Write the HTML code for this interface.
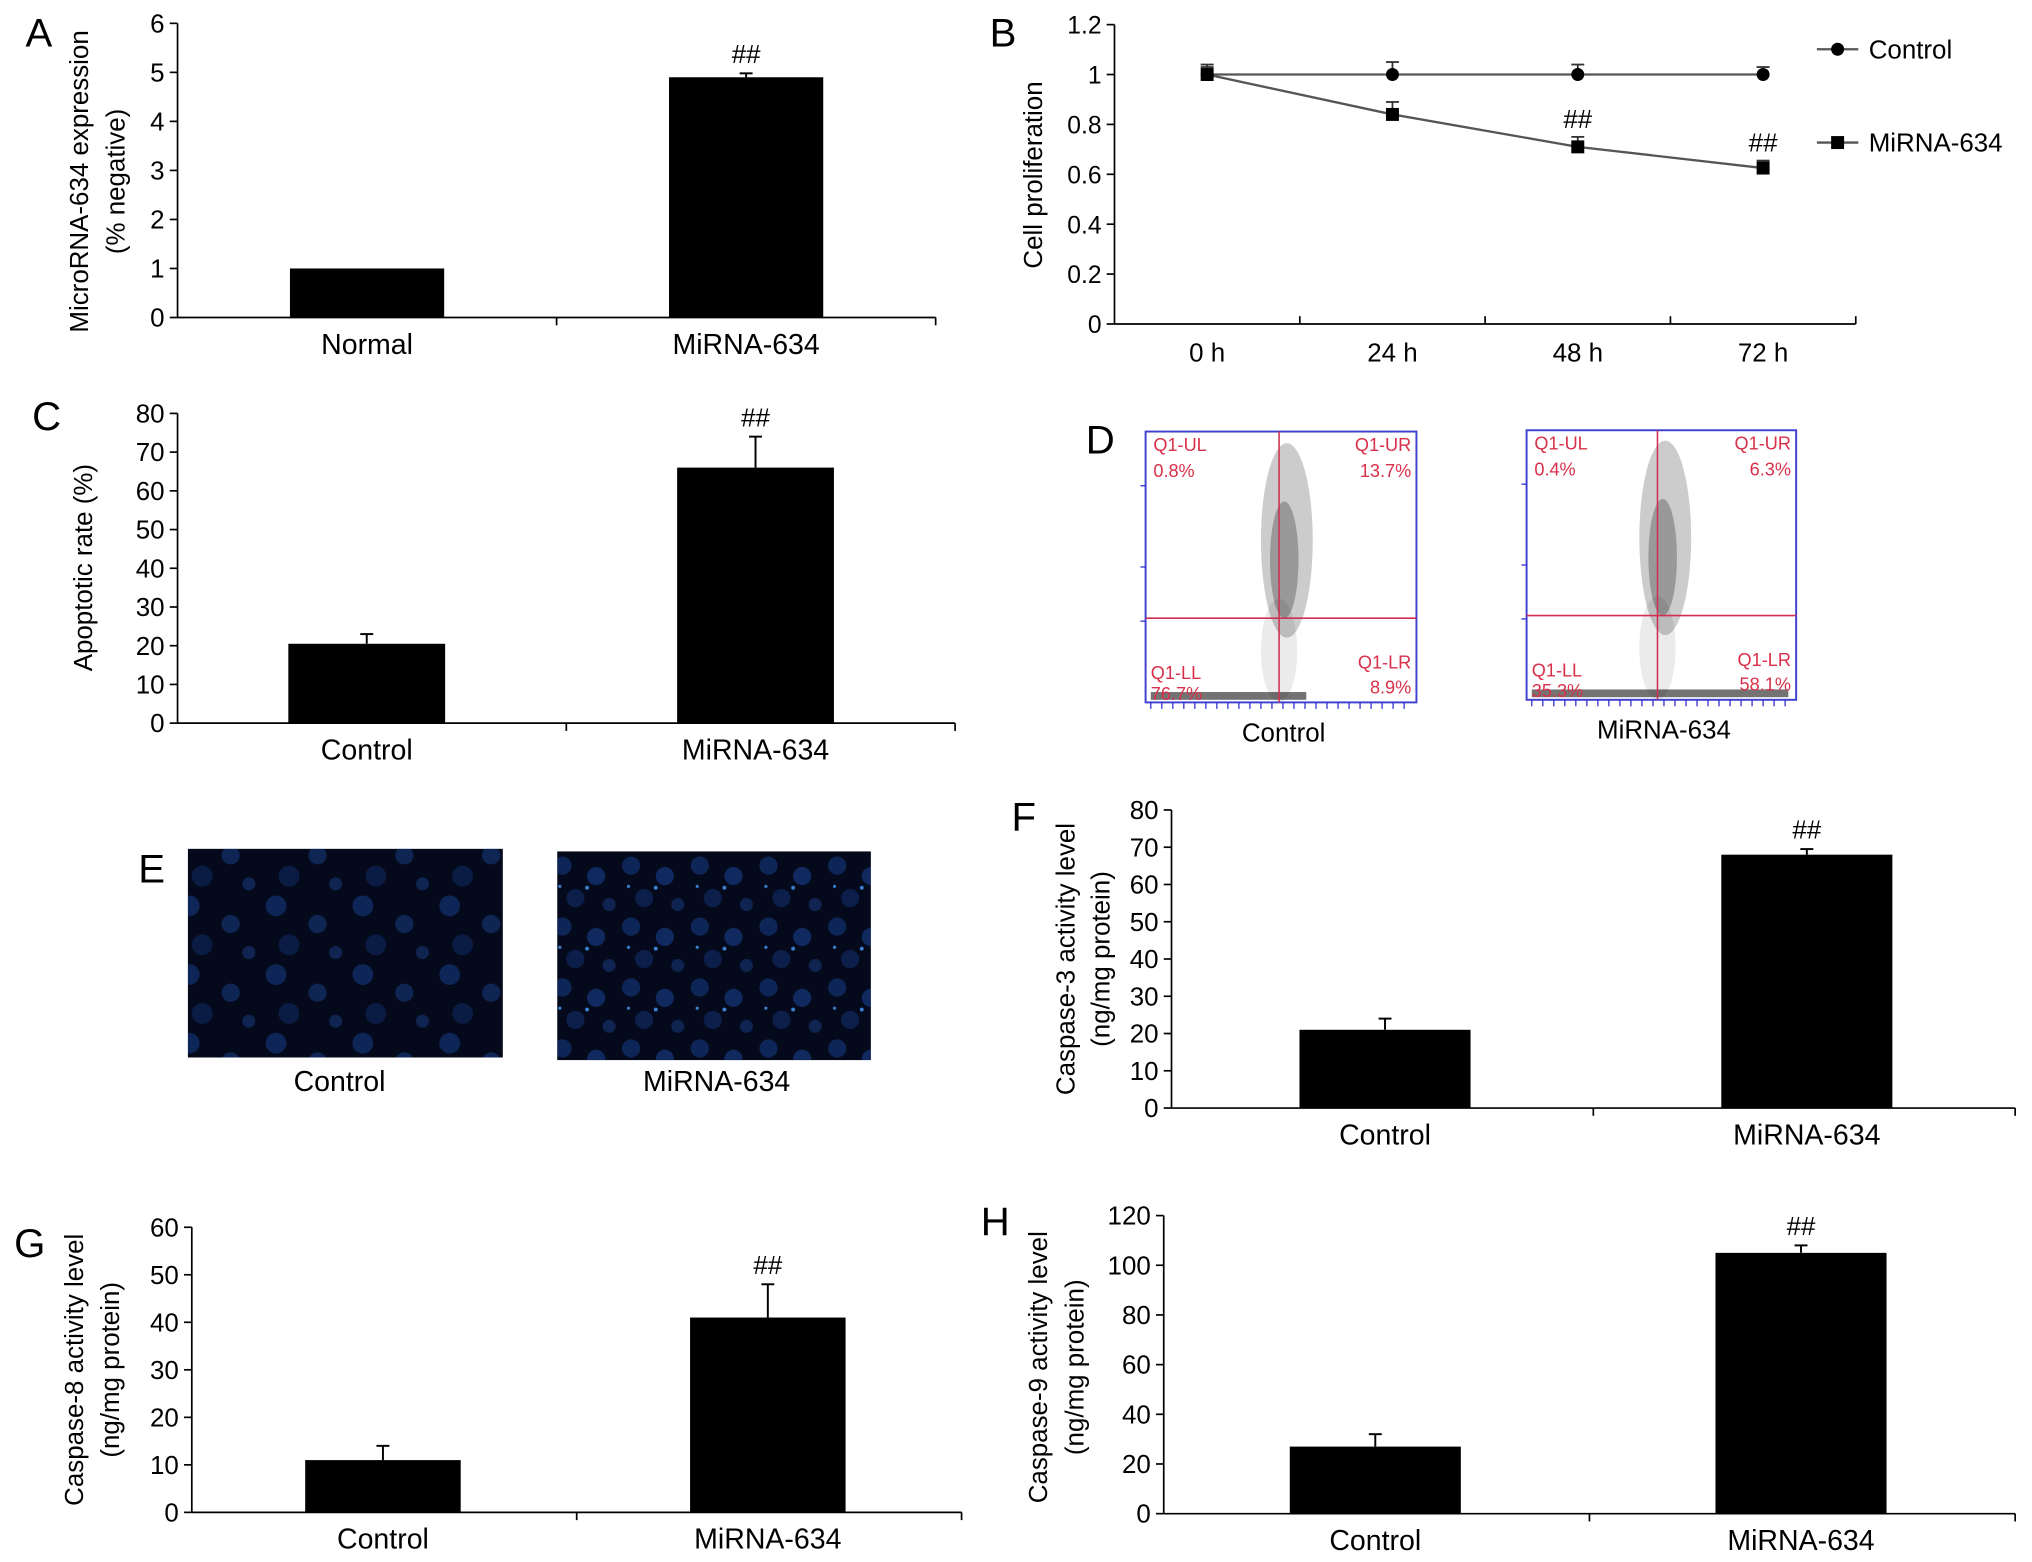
<!DOCTYPE html>
<html><head><meta charset="utf-8"><style>
html,body{margin:0;padding:0;background:#fff;}
svg{display:block;font-family:"Liberation Sans",Arial,sans-serif;}
</style></head><body>
<svg id="fig" width="2032" height="1562" viewBox="0 0 1568 1205.3" preserveAspectRatio="none" xmlns="http://www.w3.org/2000/svg">
<defs>
<pattern id="cellsA" width="67" height="53" patternUnits="userSpaceOnUse">
<circle cx="12" cy="10" r="8" fill="#1d4fb0" opacity="0.4"/><circle cx="44" cy="24" r="7" fill="#2258c0" opacity="0.35"/>
<circle cx="22" cy="40" r="8" fill="#1a45a0" opacity="0.3"/><circle cx="58" cy="46" r="5" fill="#2a60d0" opacity="0.3"/>
</pattern>
<pattern id="cellsB" width="53" height="47" patternUnits="userSpaceOnUse">
<circle cx="10" cy="10" r="7" fill="#1d4fb0" opacity="0.4"/><circle cx="36" cy="18" r="7" fill="#2258c0" opacity="0.4"/>
<circle cx="20" cy="35" r="7" fill="#1a45a0" opacity="0.35"/><circle cx="46" cy="40" r="5" fill="#2a60d0" opacity="0.3"/>
<circle cx="29" cy="27" r="1.5" fill="#4aa0ff" opacity="0.8"/><circle cx="8" cy="26" r="1.2" fill="#4aa0ff" opacity="0.8"/>
</pattern>
</defs>
<g id="root"></g>
</svg>
<script>
// Panel A data
const aCats = ["Normal","MiRNA-634"];
const aVals = [1.0, 4.9];
const aErrs = [0.0, 0.08];
const aTicks = [0,1,2,3,4,5,6];
// Panel B data
const bCats = ["0 h","24 h","48 h","72 h"];
const bCtrl = [1.0, 1.0, 1.0, 1.0];
const bCtrlErr = [0.04, 0.05, 0.04, 0.03];
const bMir = [1.0, 0.84, 0.71, 0.625];
const bMirErr = [0.03, 0.05, 0.04, 0.03];
const bTicks = [0,0.2,0.4,0.6,0.8,1,1.2];
// Panel C
const cCats = ["Control","MiRNA-634"];
const cVals = [20.5, 66];
const cErrs = [2.5, 8];
const cTicks = [0,10,20,30,40,50,60,70,80];
// Panel F
const fCats = ["Control","MiRNA-634"];
const fVals = [21, 68];
const fErrs = [3, 1.5];
const fTicks = [0,10,20,30,40,50,60,70,80];
// Panel G
const gCats = ["Control","MiRNA-634"];
const gVals = [11, 41];
const gErrs = [3, 7];
const gTicks = [0,10,20,30,40,50,60];
// Panel H
const hCats = ["Control","MiRNA-634"];
const hVals = [27, 105];
const hErrs = [5, 3];
const hTicks = [0,20,40,60,80,100,120];

const NS="http://www.w3.org/2000/svg";
const root=document.getElementById('root');
function mk(tag,attrs,parent){const e=document.createElementNS(NS,tag);for(const k in attrs)e.setAttribute(k,attrs[k]);(parent||root).appendChild(e);return e;}
function txt(s,x,y,size,anchor,parent,extra){const t=mk('text',Object.assign({x:x,y:y,'font-size':size,'text-anchor':anchor||'middle',fill:'#000'},extra||{}),parent);t.textContent=s;return t;}

function barPanel(o){
  const g=mk('g',{});
  
  
  const tmax=o.ticks[o.ticks.length-1];
  const ys=v=>o.y0-(v/tmax)*(o.y0-o.ytop);
  mk('line',{x1:o.x0,y1:o.y0,x2:o.x0,y2:o.ytop,stroke:'#000','stroke-width':1.3},g);
  mk('line',{x1:o.x0,y1:o.y0,x2:o.x1,y2:o.y0,stroke:'#000','stroke-width':1.3},g);
  o.ticks.forEach(v=>{const y=ys(v);
    mk('line',{x1:o.x0-6,y1:y,x2:o.x0,y2:y,stroke:'#000','stroke-width':1.3},g);
    const t=txt(String(v),o.x0-10,y+7,20,'end',g);
    
    
  });
  const mid=(o.x0+o.x1)/2;
  [mid,o.x1].forEach(x=>mk('line',{x1:x,y1:o.y0,x2:x,y2:o.y0+6,stroke:'#000','stroke-width':1.3},g));
  const bw=o.bw, band=(o.x1-o.x0)/o.cats.length;
  o.cats.forEach((c,i)=>{
    const cx=o.x0+band*(i+0.5)+(o.shift||0);
    const top=ys(o.vals[i]);
    const r=mk('rect',{x:cx-bw/2,y:top,width:bw,height:o.y0-top,fill:'#000'},g);
    
    
    if(o.errs[i]>0){const ey=ys(o.vals[i]+o.errs[i]);
      mk('line',{x1:cx,y1:top,x2:cx,y2:ey,stroke:'#000','stroke-width':1.5},g);
      mk('line',{x1:cx-5,y1:ey,x2:cx+5,y2:ey,stroke:'#000','stroke-width':1.5},g);}
    const l=txt(c,cx,o.y0+28,22,'middle',g);
    
    
    if(i===1){const h=txt('##',cx,ys(o.vals[i]+o.errs[i])-8,20,'middle',g);
      
      }
  });
  o.titles.forEach((s,k)=>{const t=txt(s,o.tx[k],o.ty,20,'middle',g,{transform:'rotate(-90 '+o.tx[k]+' '+o.ty+')'});
    
    });
  const L=txt(o.letter,o.lx,o.ly,31,'middle',g);
  
  
}

barPanel({name:'panel-a',cats:aCats,vals:aVals,errs:aErrs,ticks:aTicks,x0:137,x1:722,y0:245,ytop:18,bw:119,shift:0,titles:['MicroRNA-634 expression','(% negative)'],tx:[68,96],ty:140,letter:'A',lx:30,ly:36});
barPanel({name:'panel-c',cats:cCats,vals:cVals,errs:cErrs,ticks:cTicks,x0:137,x1:737,y0:558,ytop:319,bw:121,shift:-4,titles:['Apoptotic rate (%)'],tx:[71],ty:438,letter:'C',lx:36,ly:332});
barPanel({name:'panel-f',cats:fCats,vals:fVals,errs:fErrs,ticks:fTicks,x0:904,x1:1555,y0:855,ytop:625,bw:132,shift:2,titles:['Caspase-3 activity level','(ng/mg protein)'],tx:[829,856],ty:740,letter:'F',lx:790,ly:641});
barPanel({name:'panel-g',cats:gCats,vals:gVals,errs:gErrs,ticks:gTicks,x0:148,x1:742,y0:1167,ytop:947,bw:120,shift:-1,titles:['Caspase-8 activity level','(ng/mg protein)'],tx:[64,92],ty:1057,letter:'G',lx:23,ly:970});
barPanel({name:'panel-h',cats:hCats,vals:hVals,errs:hErrs,ticks:hTicks,x0:898,x1:1555,y0:1168,ytop:938,bw:132,shift:-1,titles:['Caspase-9 activity level','(ng/mg protein)'],tx:[808,836],ty:1055,letter:'H',lx:768,ly:953});

// Panel B line chart
(function(){
  const g=mk('g',{});
  
  
  const x0=860,x1=1432,y0=250,ytop=19,tmax=1.2;
  const ys=v=>y0-(v/tmax)*(y0-ytop);
  const band=(x1-x0)/4;
  const xs=i=>x0+band*(i+0.5);
  mk('line',{x1:x0,y1:y0,x2:x0,y2:ytop,stroke:'#000','stroke-width':1.3},g);
  mk('line',{x1:x0,y1:y0,x2:x1,y2:y0,stroke:'#000','stroke-width':1.3},g);
  bTicks.forEach(v=>{const y=ys(v);
    mk('line',{x1:x0-6,y1:y,x2:x0,y2:y,stroke:'#000','stroke-width':1.3},g);
    const t=txt(String(v),x0-10,y+7,19,'end',g);
    
    });
  for(let i=1;i<=4;i++){const x=x0+band*i;mk('line',{x1:x,y1:y0,x2:x,y2:y0-6,stroke:'#000','stroke-width':1.3},g);}
  bCats.forEach((c,i)=>{const t=txt(c,xs(i),y0+29,20,'middle',g);
    
    });
  function series(vals,errs,shape,name){
    const p=mk('polyline',{points:vals.map((v,i)=>xs(i)+','+ys(v)).join(' '),fill:'none',stroke:'#555','stroke-width':1.8},g);
    
    
    vals.forEach((v,i)=>{const x=xs(i),y=ys(v),ey=ys(v+errs[i]);
      mk('line',{x1:x,y1:y,x2:x,y2:ey,stroke:'#333','stroke-width':1.4},g);
      mk('line',{x1:x-5,y1:ey,x2:x+5,y2:ey,stroke:'#333','stroke-width':1.4},g);
      const m=shape==='c'?mk('circle',{cx:x,cy:y,r:5,fill:'#000'},g):mk('rect',{x:x-5,y:y-5,width:10,height:10,fill:'#000'},g);
      
      });
  }
  series(bCtrl,bCtrlErr,'c','control');
  series(bMir,bMirErr,'s','mirna-634');
  [2,3].forEach(i=>{const t=txt('##',xs(i),ys(bMir[i]+bMirErr[i])-7,20,'middle',g);
    
    });
  const lg=mk('g',{},g);
  
  
  mk('line',{x1:1402,y1:38,x2:1434,y2:38,stroke:'#555','stroke-width':1.8},lg);
  mk('circle',{cx:1418,cy:38,r:5,fill:'#000'},lg);
  txt('Control',1442,45,20,'start',lg);
  mk('line',{x1:1402,y1:110,x2:1434,y2:110,stroke:'#555','stroke-width':1.8},lg);
  mk('rect',{x:1413,y:105,width:10,height:10,fill:'#000'},lg);
  txt('MiRNA-634',1442,117,20,'start',lg);
  const t=txt('Cell proliferation',804,135,20,'middle',g,{transform:'rotate(-90 804 135)'});
  
  
  const L=txt('B',774,36,31,'middle',g);
  
  
})();

// Panel D flow cytometry (schematic)
(function(){
  const g=mk('g',{});
  
  
  const plots=[{x:884,y:333,w:209,h:209,vx:987,hy:477,lab:'Control',ul:'0.8%',ur:'13.7%',ll:'76.7%',lr:'8.9%'},
               {x:1178,y:332,w:208,h:208,vx:1279,hy:475,lab:'MiRNA-634',ul:'0.4%',ur:'6.3%',ll:'35.3%',lr:'58.1%'}];
  plots.forEach((p,k)=>{
    const pg=mk('g',{},g);
    
    
    mk('ellipse',{cx:p.vx+6,cy:p.hy-60,rx:20,ry:75,fill:'#000',opacity:0.2},pg);
    mk('ellipse',{cx:p.vx+4,cy:p.hy-45,rx:11,ry:45,fill:'#000',opacity:0.25},pg);
    mk('ellipse',{cx:p.vx,cy:p.hy+25,rx:14,ry:40,fill:'#000',opacity:0.08},pg);
    mk('rect',{x:p.x+4,y:p.y+p.h-8,width:k?p.w-10:120,height:6,fill:'#000',opacity:0.55},pg);
    mk('rect',{x:p.x,y:p.y,width:p.w,height:p.h,fill:'none',stroke:'#4040d0','stroke-width':1.5},pg);
    for(let i=0;i<24;i++)mk('line',{x1:p.x+4+i*8.5,y1:p.y+p.h,x2:p.x+4+i*8.5,y2:p.y+p.h+5,stroke:'#3030d0','stroke-width':1},pg);
    [0.2,0.5,0.7].forEach(f=>mk('line',{x1:p.x-4,y1:p.y+p.h*f,x2:p.x,y2:p.y+p.h*f,stroke:'#3030d0','stroke-width':1},pg));
    mk('line',{x1:p.vx,y1:p.y,x2:p.vx,y2:p.y+p.h,stroke:'#d03050','stroke-width':1.2},pg);
    mk('line',{x1:p.x,y1:p.hy,x2:p.x+p.w,y2:p.hy,stroke:'#d03050','stroke-width':1.2},pg);
    const c='#d8304a';
    txt('Q1-UL',p.x+6,p.y+15,14,'start',pg,{fill:c});txt(p.ul,p.x+6,p.y+35,14,'start',pg,{fill:c});
    txt('Q1-UR',p.x+p.w-4,p.y+15,14,'end',pg,{fill:c});txt(p.ur,p.x+p.w-4,p.y+35,14,'end',pg,{fill:c});
    txt('Q1-LL',p.x+4,p.y+p.h-18,14,'start',pg,{fill:c});txt(p.ll,p.x+4,p.y+p.h-2,14,'start',pg,{fill:c});
    txt('Q1-LR',p.x+p.w-4,p.y+p.h-26,14,'end',pg,{fill:c});txt(p.lr,p.x+p.w-4,p.y+p.h-7,14,'end',pg,{fill:c});
    txt(p.lab,p.x+p.w/2+2,p.y+p.h+30,20,'middle',pg);
  });
  const L=txt('D',849,350,31,'middle',g);
  
  
})();

// Panel E microscopy
(function(){
  const g=mk('g',{});
  
  
  const imgs=[{x:145,y:655,w:243,h:161,p:'cellsA',lab:'Control',lx:262},{x:430,y:657,w:242,h:161,p:'cellsB',lab:'MiRNA-634',lx:553}];
  imgs.forEach(m=>{
    const r=mk('rect',{x:m.x,y:m.y,width:m.w,height:m.h,fill:'#040a1c'},g);
    
    
    mk('rect',{x:m.x,y:m.y,width:m.w,height:m.h,fill:'url(#'+m.p+')'},g);
    txt(m.lab,m.lx,842,22,'middle',g);
  });
  const L=txt('E',117,681,31,'middle',g);
  
  
})();
</script>
</body></html>
